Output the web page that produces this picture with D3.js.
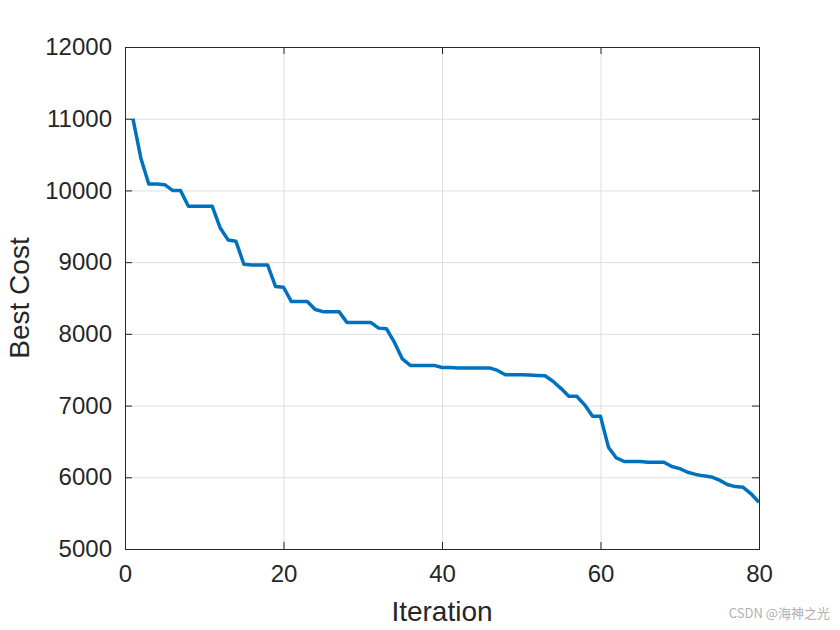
<!DOCTYPE html>
<html>
<head>
<meta charset="utf-8">
<script src="https://cdn.jsdelivr.net/npm/d3@7"></script>
<style>
  body { margin: 0; background: #fff; }
  text { font-family: "Liberation Sans", Arial, sans-serif; }
</style>
</head>
<body>
<div id="chart"></div>
<script>
// Best cost per iteration
const iterations = d3.range(1, 81);
const bestCost = [
  11000, 10450, 10090, 10090, 10080, 10000, 10000, 9780, 9780, 9780,
  9780, 9480, 9310, 9290, 8970, 8960, 8960, 8960, 8660, 8650,
  8450, 8450, 8450, 8340, 8310, 8310, 8310, 8160, 8160, 8160,
  8160, 8080, 8070, 7880, 7650, 7560, 7560, 7560, 7560, 7530,
  7530, 7525, 7525, 7525, 7525, 7525, 7490, 7430, 7430, 7430,
  7425, 7420, 7415, 7340, 7240, 7130, 7130, 7010, 6850, 6850,
  6420, 6270, 6220, 6220, 6220, 6210, 6210, 6210, 6150, 6120,
  6070, 6040, 6020, 6005, 5960, 5900, 5870, 5860, 5770, 5650
];
const xTicks = [0, 20, 40, 60, 80];
const yTicks = [5000, 6000, 7000, 8000, 9000, 10000, 11000, 12000];

const width = 840, height = 630;
const margin = {top: 47, right: 81, bottom: 81, left: 125};

const svg = d3.select("#chart").append("svg")
    .attr("width", width)
    .attr("height", height);

const x = d3.scaleLinear([0, 80], [margin.left, width - margin.right]);
const y = d3.scaleLinear([5000, 12000], [height - margin.bottom, margin.top]);

// grid
svg.append("g")
    .attr("stroke", "#dfdfdf")
    .attr("stroke-width", 1)
    .call(g => g.selectAll("line.v").data(xTicks.slice(1, -1)).join("line")
        .attr("x1", d => x(d) + 0.5).attr("x2", d => x(d) + 0.5)
        .attr("y1", margin.top).attr("y2", height - margin.bottom))
    .call(g => g.selectAll("line.h").data(yTicks.slice(1, -1)).join("line")
        .attr("y1", d => y(d) + 0.5).attr("y2", d => y(d) + 0.5)
        .attr("x1", margin.left).attr("x2", width - margin.right));

// line
const line = d3.line()
    .x((d, i) => x(iterations[i]))
    .y(d => y(d));

svg.append("path")
    .datum(bestCost)
    .attr("fill", "none")
    .attr("stroke", "#0072BD")
    .attr("stroke-width", 3.5)
    .attr("stroke-linejoin", "round")
    .attr("d", line);

// axes
const tickLen = 7;
const fmt = d3.format("d");
svg.append("g")
    .attr("transform", `translate(0,${height - margin.bottom})`)
    .call(d3.axisBottom(x).tickValues(xTicks).tickFormat(fmt).tickSizeInner(-tickLen).tickSizeOuter(0).tickPadding(16))
    .call(g => g.select(".domain").remove())
    .call(g => g.selectAll("line").attr("stroke", "#262626"))
    .call(g => g.selectAll("text").attr("font-size", 24).attr("fill", "#262626"));

svg.append("g")
    .attr("transform", `translate(${margin.left},0)`)
    .call(d3.axisLeft(y).tickValues(yTicks).tickFormat(fmt).tickSizeInner(-tickLen).tickSizeOuter(0).tickPadding(13))
    .call(g => g.select(".domain").remove())
    .call(g => g.selectAll("line").attr("stroke", "#262626"))
    .call(g => g.selectAll("text").attr("font-size", 24).attr("fill", "#262626"));

// mirrored ticks on top and right
svg.append("g")
    .attr("transform", `translate(0,${margin.top})`)
    .call(d3.axisTop(x).tickValues(xTicks).tickSizeInner(-tickLen).tickSizeOuter(0).tickFormat(""))
    .call(g => g.select(".domain").remove())
    .call(g => g.selectAll("line").attr("stroke", "#262626"));

svg.append("g")
    .attr("transform", `translate(${width - margin.right},0)`)
    .call(d3.axisRight(y).tickValues(yTicks).tickSizeInner(-tickLen).tickSizeOuter(0).tickFormat(""))
    .call(g => g.select(".domain").remove())
    .call(g => g.selectAll("line").attr("stroke", "#262626"));

// box
svg.append("rect")
    .attr("x", margin.left + 0.5)
    .attr("y", margin.top + 0.5)
    .attr("width", width - margin.left - margin.right)
    .attr("height", height - margin.top - margin.bottom)
    .attr("fill", "none")
    .attr("stroke", "#262626")
    .attr("stroke-width", 1);

// labels
svg.append("text")
    .attr("x", (margin.left + width - margin.right) / 2)
    .attr("y", 621)
    .attr("text-anchor", "middle")
    .attr("font-size", 28)
    .attr("fill", "#262626")
    .text("Iteration");

svg.append("text")
    .attr("transform", `translate(29,${(margin.top + height - margin.bottom) / 2}) rotate(-90)`)
    .attr("text-anchor", "middle")
    .attr("font-size", 28)
    .attr("fill", "#262626")
    .text("Best Cost");

// watermark
svg.append("text")
    .attr("x", 830)
    .attr("y", 618)
    .attr("text-anchor", "end")
    .attr("font-size", 13)
    .attr("fill", "#b0b0b0")
    .style("font-family", "'Noto Sans CJK SC', sans-serif")
    .text("CSDN @海神之光");
</script>
</body>
</html>
